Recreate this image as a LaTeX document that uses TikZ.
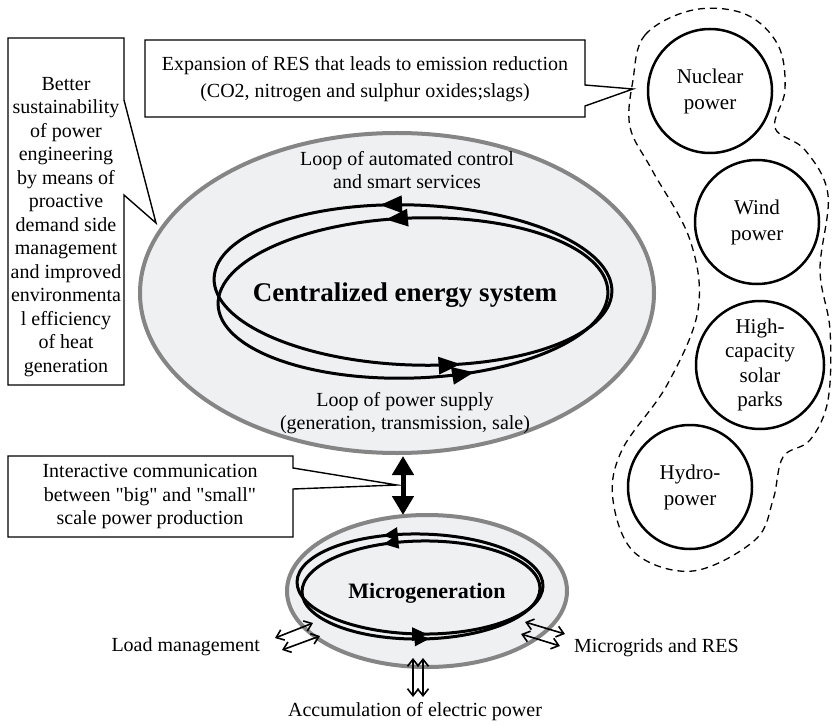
\documentclass[tikz,border=0pt]{standalone}
\usepackage{fontspec}
\setmainfont{Liberation Serif}
\usetikzlibrary{shapes.geometric,arrows.meta,decorations.markings}
\definecolor{ringgray}{HTML}{858585}
\definecolor{fillgray}{HTML}{EFF0F2}
\begin{document}
\begin{tikzpicture}[x=1pt,y=1pt,
  txt/.style={font=\fontsize{20}{23.5}\selectfont, align=center, inner sep=0pt},
  circtxt/.style={circle, draw, line width=2.5pt, minimum size=124pt, inner sep=0pt, align=center, font=\fontsize{21}{26}\selectfont},
  callout/.style={draw, line width=1.4pt, fill=white, line join=miter},
  ring/.style={ellipse, draw=ringgray, line width=4pt, fill=fillgray, inner sep=0pt},
  bigloop/.style 2 args={line width=3pt, postaction={decorate}, decoration={markings,
     mark=at position #1 with {\arrow{Triangle[length=22pt,width=17pt]}},
     mark=at position #2 with {\arrow{Triangle[length=22pt,width=17pt]}}}},
  smallloop/.style 2 args={line width=3pt, postaction={decorate}, decoration={markings,
     mark=at position #1 with {\arrow{Triangle[length=15pt,width=13pt]}},
     mark=at position #2 with {\arrow{Triangle[length=15pt,width=13pt]}}}},
  thinarrow/.style={line width=1.6pt, {Straight Barb[length=7pt,width=11pt]}-{Straight Barb[length=7pt,width=11pt]}},
]
\useasboundingbox (0,0) rectangle (832,-727);

% dashed group outline
\draw[line width=1.3pt, dash pattern=on 7pt off 5pt] plot[smooth cycle, tension=0.6] coordinates {(633,-80) (645,-35) (693,-10) (745,-14) (778,-45) (785,-90) (775,-128) (805,-150) (828,-195) (820,-270) (830,-330) (828,-400) (810,-440) (783,-457) (773,-500) (755,-540) (693,-571) (635,-553) (613,-500) (622,-450) (667,-385) (698,-310) (690,-240) (652,-170) (630,-127)};

% circles
\node[circtxt] (nuc) at (710,-91) {Nuclear\\power};
\node[circtxt] (wind) at (757,-222) {Wind\\power};
\node[circtxt, minimum size=128pt, font=\fontsize{21}{24.5}\selectfont] (solar) at (760,-365) {High-\\capacity\\solar\\parks};
\node[circtxt] (hydro) at (690,-487) {Hydro-\\power};

% big ellipse
\node[ring, minimum width=514pt, minimum height=320pt] (big) at (397,-293) {};
\draw[bigloop={0.289}{0.805}, rotate around={-2:(413,-285)}] (413,-285) ellipse [x radius=199, y radius=80];
\draw[bigloop={0.277}{0.815}, rotate around={2:(413,-298)}] (413,-298) ellipse [x radius=195, y radius=80];
\node[txt] (ctl) at (407,-170) {Loop of automated control\\and smart services};
\node[txt, font=\fontsize{27}{32}\selectfont\bfseries] (ces) at (405,-295) {Centralized energy system};
\node[txt] (sup) at (405,-413) {Loop of power supply\\(generation, transmission, sale)};

% left callout
\coordinate (tipL) at (156,-223);
\draw[callout] (8,-38) -- (124,-38) -- (124,-100) -- (tipL) -- (124,-195) -- (124,-385) -- (8,-385) -- cycle;
\node[txt] (sust) at (66,-227) {Better\\sustainability\\of power\\engineering\\by means of\\proactive\\demand side\\management\\and improved\\environmenta\\l efficiency\\of heat\\generation};

% top callout
\coordinate (tipT) at (633,-89);
\draw[callout] (145,-40) -- (585,-40) -- (585,-85) -- (tipT) -- (585,-106) -- (585,-117) -- (145,-117) -- cycle;
\node[txt, font=\fontsize{20}{27}\selectfont] (res) at (365,-79) {Expansion of RES that leads to emission reduction\\(CO2, nitrogen and sulphur oxides;slags)};

% interactive callout
\coordinate (tipI) at (397,-485);
\draw[callout] (8,-456) -- (293,-456) -- (293,-468) -- (tipI) -- (293,-489) -- (293,-537) -- (8,-537) -- cycle;
\node[txt] (inter) at (150,-497) {Interactive communication\\between \textquotedbl big\textquotedbl{} and \textquotedbl small\textquotedbl\\scale power production};

% big double arrow
\coordinate (dTop) at (403,-456);
\coordinate (dBot) at (403,-515);
\draw[line width=5pt, {Triangle[length=19pt,width=21pt]}-{Triangle[length=19pt,width=21pt]}] (dTop) -- (dBot);

% microgeneration
\node[ring, minimum width=280pt, minimum height=152pt] (micro) at (427,-591) {};
\draw[smallloop={0.317}{0.764}, rotate around={-1:(420,-584)}] (420,-584) ellipse [x radius=123, y radius=50];
\draw[smallloop={0.317}{0.764}, rotate around={1:(421,-590)}] (421,-590) ellipse [x radius=119, y radius=49];
\node[txt, font=\fontsize{22}{26}\selectfont\bfseries] (mg) at (427,-593) {Microgeneration};

% small arrows
\coordinate (l1a) at (275,-638); \coordinate (l1b) at (313,-623);
\coordinate (l2a) at (282,-650); \coordinate (l2b) at (320,-636);
\coordinate (r1a) at (525,-622); \coordinate (r1b) at (565,-634);
\coordinate (r2a) at (521,-634); \coordinate (r2b) at (560,-646);
\coordinate (c1a) at (413,-658); \coordinate (c1b) at (413,-697);
\coordinate (c2a) at (423,-658); \coordinate (c2b) at (423,-697);
\draw[thinarrow] (l1a) -- (l1b);
\draw[thinarrow] (l2a) -- (l2b);
\draw[thinarrow] (r1a) -- (r1b);
\draw[thinarrow] (r2a) -- (r2b);
\draw[thinarrow] (c1a) -- (c1b);
\draw[thinarrow] (c2a) -- (c2b);

\node[txt, anchor=east] (load) at (260,-647) {Load management};
\node[txt, anchor=west] (mgr) at (574,-648) {Microgrids and RES};
\node[txt] (acc) at (415,-712) {Accumulation of electric power};
\end{tikzpicture}
\end{document}
